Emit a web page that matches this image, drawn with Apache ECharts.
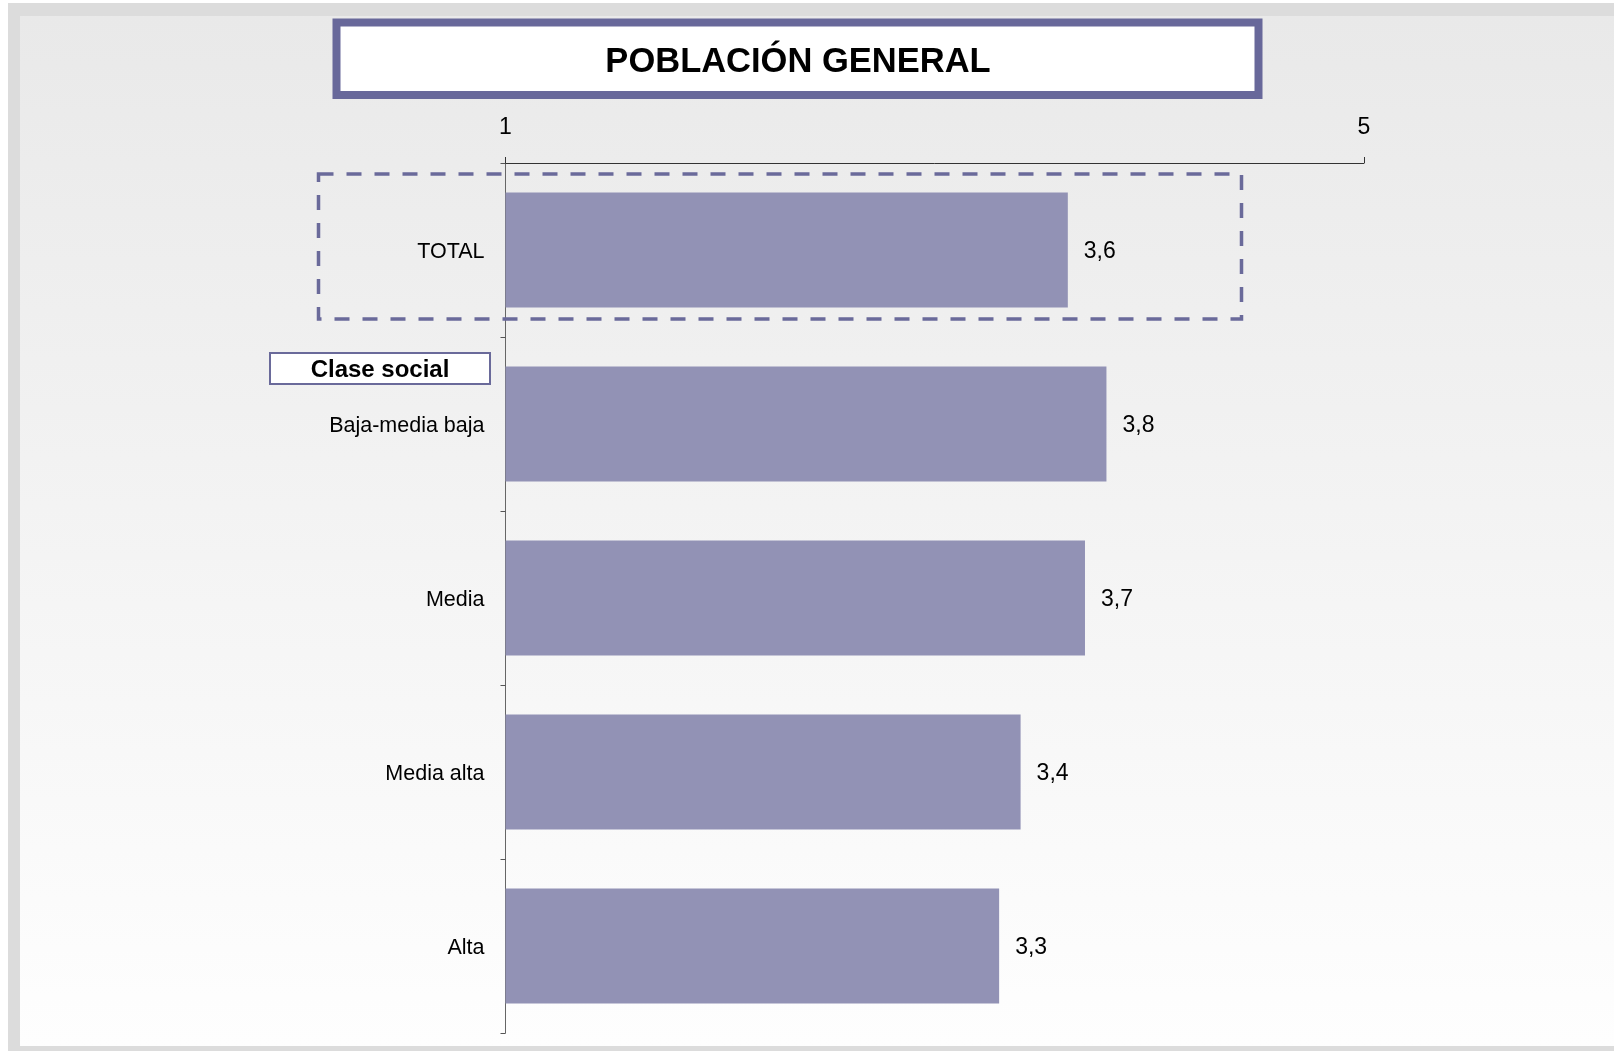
<!DOCTYPE html>
<html>
<head>
<meta charset="utf-8">
<script src="https://cdn.jsdelivr.net/npm/echarts@6/dist/echarts.min.js"></script>
<style>
html,body{margin:0;padding:0;background:#fff;}
#chart{width:1614px;height:1051px;}
</style>
</head>
<body>
<div id="chart"></div>
<script>
const titleText = 'POBLACIÓN GENERAL';
const categories = ['TOTAL', 'Baja-media baja', 'Media', 'Media alta', 'Alta'];
const values = [3.62, 3.80, 3.70, 3.40, 3.30];
const axisMin = 1;
const axisMax = 5;
const groupLabel = 'Clase social';

const FONT = '"Liberation Sans", Arial, sans-serif';
const chart = echarts.init(document.getElementById('chart'), null, {renderer: 'canvas'});

const option = {
  animation: false,
  backgroundColor: '#ffffff',
  title: {
    text: titleText,
    left: 793,
    textAlign: 'center',
    top: 40,
    textStyle: {fontFamily: FONT, fontSize: 34.5, fontWeight: 'bold', color: '#000'}
  },
  grid: {left: 505.5, right: 250, top: 163, bottom: 18, containLabel: false},
  xAxis: {
    type: 'value',
    position: 'top',
    min: axisMin,
    max: axisMax,
    interval: axisMax - axisMin,
    splitLine: {show: false},
    axisLine: {show: true, lineStyle: {color: '#333', width: 1}},
    axisTick: {show: true, length: 6, lineStyle: {color: '#333'}},
    axisLabel: {fontFamily: FONT, fontSize: 23, color: '#000', margin: 24}
  },
  yAxis: {
    type: 'category',
    inverse: true,
    data: categories,
    axisLine: {show: true, lineStyle: {color: '#666', width: 1}},
    axisTick: {show: true, length: 5, lineStyle: {color: '#555'}},
    axisLabel: {
      fontFamily: FONT, fontSize: 21.5, color: '#000', margin: 21,
      formatter: v => '{a|' + v + '}',
      rich: {a: {fontFamily: FONT, fontSize: 21.5, color: '#000', padding: [4, 0, 0, 0]}}
    }
  },
  series: [{
    type: 'bar',
    data: values,
    barCategoryGap: '34%',
    itemStyle: {color: '#9292b5'},
    label: {
      show: true,
      position: 'right',
      distance: 16,
      offset: [0, 2],
      fontFamily: FONT,
      fontSize: 23,
      color: '#000',
      formatter: p => p.value.toFixed(1).replace('.', ',')
    },
    z: 3
  }]
};
chart.setOption(option);

const gridLeft = 505.5;
const yc = chart.convertToPixel({yAxisIndex: 0}, categories[0]);
chart.setOption({
  graphic: [
    {type: 'rect', silent: true, z: -10, shape: {x: 8, y: 3, width: 1606, height: 1048}, style: {fill: '#dcdcdc'}},
    {type: 'rect', silent: true, z: -9, shape: {x: 20, y: 16, width: 1594, height: 1030},
      style: {fill: new echarts.graphic.LinearGradient(0, 0, 0, 1, [
        {offset: 0, color: '#e9e9e9'}, {offset: 1, color: '#fefefe'}])}},
    {type: 'rect', silent: true, z: -5, shape: {x: 336.5, y: 22.5, width: 922, height: 72.5},
      style: {fill: '#ffffff', stroke: '#68689a', lineWidth: 8}},
    {type: 'rect', silent: true, z: 10,
      shape: {x: gridLeft - 187, y: yc - 76, width: 923, height: 145},
      style: {fill: null, stroke: '#6a6a9a', lineWidth: 3.5, lineDash: [15, 13]}},
    {type: 'rect', silent: true, z: 10,
      shape: {x: 270, y: 353, width: 220, height: 31},
      style: {fill: '#ffffff', stroke: '#6a6a9a', lineWidth: 2}},
    {type: 'text', silent: true, z: 11, x: 380, y: 370,
      style: {text: groupLabel, font: 'bold 24px ' + FONT, fill: '#000', align: 'center', verticalAlign: 'middle'}}
  ]
});
</script>
</body>
</html>
